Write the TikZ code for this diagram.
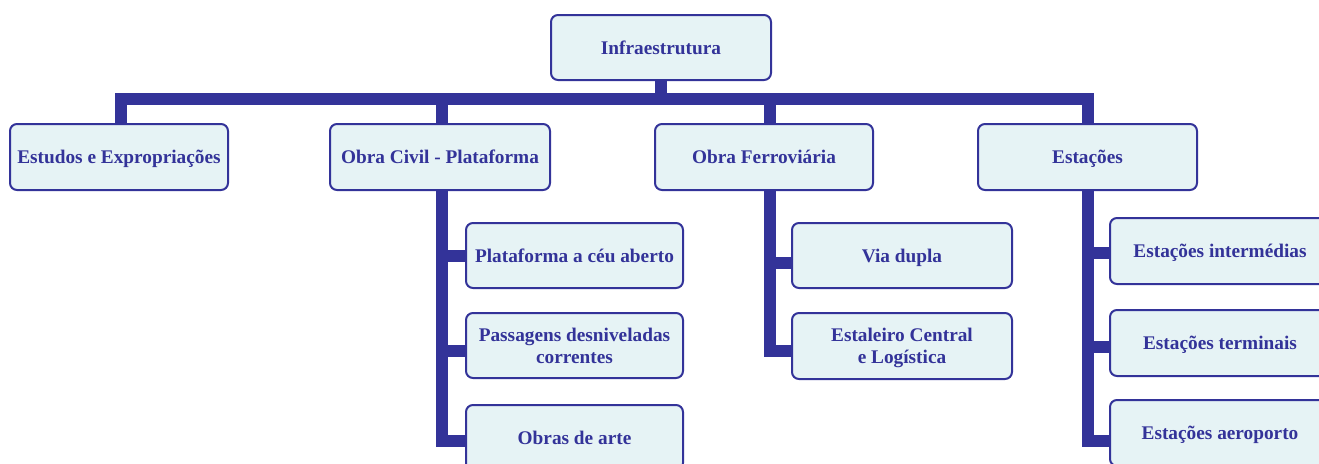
\documentclass[tikz,border=0pt]{standalone}
\usepackage{fontspec}
\setmainfont{Liberation Serif}
\definecolor{navy}{HTML}{333399}
\definecolor{paleblue}{HTML}{E6F3F5}
\begin{document}
\begin{tikzpicture}[x=1pt,y=-1pt,
  box/.style={draw=navy, fill=paleblue, line width=2pt, rounded corners=7pt,
    minimum width=218pt, minimum height=65pt, inner sep=0pt, align=center,
    text=navy, font=\fontsize{19.3}{22}\selectfont\bfseries,
    text height=13pt, text depth=0pt},
  twoline/.style={text height=35pt},
  conn/.style={draw=navy, line width=12pt, line join=miter, line cap=butt}]
\useasboundingbox (0,0) rectangle (1319,463);
\clip (0,0) rectangle (1319,463);

% top level and first row of work packages
\node[box, minimum width=220pt] (top) at (661,47.5) {Infraestrutura};
\node[box, minimum height=66pt] (estudos) at (119,157) {Estudos e Expropriações};
\node[box, minimum width=220pt, minimum height=66pt] (ocivil) at (440,157) {Obra Civil - Plataforma};
\node[box, minimum height=66pt] (ferro) at (764,157) {Obra Ferroviária};
\node[box, minimum width=219pt, minimum height=66pt] (estac) at (1087.5,157) {Estações};

% sub-packages of the civil works
\node[box, minimum width=217pt] (plat) at (574.5,255.5) {Plataforma a céu aberto};
\node[box, twoline, minimum width=217pt] (pass) at (574.5,345.5) {Passagens desniveladas\\correntes};
\node[box, minimum width=217pt] (obras) at (574.5,437.5) {Obras de arte};

% sub-packages of the railway works
\node[box, minimum width=220pt] (via) at (902,255.5) {Via dupla};
\node[box, twoline, minimum width=220pt, minimum height=66pt] (estal) at (902,346) {Estaleiro Central\\e Logística};

% sub-packages of the stations
\node[box, minimum width=220pt, minimum height=66pt] (einter) at (1220,251) {Estações intermédias};
\node[box, minimum width=220pt, minimum height=66pt] (eterm) at (1220,343) {Estações terminais};
\node[box, minimum width=220pt, minimum height=66pt] (eaero) at (1220,433) {Estações aeroporto};

% columns and bus of the tree
\coordinate (bus) at (0,98.5);
\coordinate (colA) at (121,0);
\coordinate (colB) at (441.5,0);
\coordinate (colC) at (770,0);
\coordinate (colD) at (1088,0);

\draw[conn] (top.south) -- (top.south |- bus);
\draw[conn] (estudos.north -| colA) |- (bus -| colD) -- (estac.north -| colD);
\draw[conn] (bus -| colB) -- (ocivil.north -| colB);
\draw[conn] (bus -| colC) -- (ferro.north -| colC);

\draw[conn] (ocivil.south -| colB) |- ([yshift=-0.5pt]plat.west);
\draw[conn] (ocivil.south -| colB) |- ([yshift=-5.5pt]pass.west);
\draw[conn] (ocivil.south -| colB) |- ([yshift=-3.5pt]obras.west);

\draw[conn] (ferro.south -| colC) |- ([yshift=-7pt]via.west);
\draw[conn] (ferro.south -| colC) |- ([yshift=-4.5pt]estal.west);

\draw[conn] (estac.south -| colD) |- ([yshift=-1.5pt]einter.west);
\draw[conn] (estac.south -| colD) |- ([yshift=-3.5pt]eterm.west);
\draw[conn] (estac.south -| colD) |- ([yshift=-8pt]eaero.west);
\end{tikzpicture}
\end{document}
